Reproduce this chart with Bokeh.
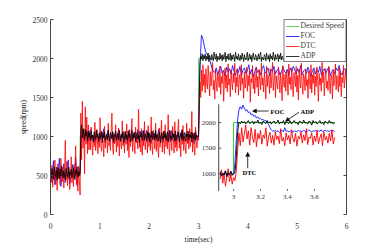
import numpy as np
from bokeh.plotting import figure
from bokeh.models import Range1d, LinearAxis, Legend, LegendItem, Arrow, NormalHead, FixedTicker
from bokeh.core.properties import value
from bokeh.embed import file_html
from bokeh.resources import INLINE

# ---------------- data ----------------
time_foc = np.round(np.linspace(0.0, 6.0, 201), 3)      # 0.03 s sampling
time_fine = np.round(np.linspace(0.0, 6.0, 401), 3)     # 0.015 s sampling

desired_t = [0.0, 0.6, 0.6, 3.0, 3.0, 6.0]
desired_w = [500, 500, 1000, 1000, 2000, 2000]

foc = [560, 420, 690, 380, 610, 470, 720, 360, 540, 650, 410, 580, 700, 390, 500, 640, 450, 730, 370, 600,
       520,
       980, 1060, 940, 1080, 910, 1030, 1090, 950, 1010, 920,
       1070, 990, 930, 1050, 960, 1100, 920, 1020, 1080, 940,
       1000, 1060, 910, 1040, 970, 1090, 930, 1010, 1070, 950,
       1030, 900, 1080, 990, 940, 1050, 1010, 920, 1090, 960,
       1020, 1070, 930, 1000, 1080, 950, 1040, 910, 1060, 980,
       1030, 940, 1090, 970, 1010, 920, 1070, 1000, 950, 1050,
       930, 1080, 990, 1020, 910, 1060, 960, 1040, 1090, 940,
       1000, 1070, 920, 1030, 980, 1050, 910, 1080, 960,
       1000, 1900, 2300, 2250, 2150, 2080, 2050, 2010, 1960, 1880, 1840,
       1820, 1880, 1790, 1860, 1900, 1810, 1850, 1770, 1890, 1830,
       1870, 1800, 1910, 1840, 1780, 1860, 1820, 1900, 1790, 1850,
       1880, 1810, 1840, 1920, 1800, 1860, 1770, 1830, 1890, 1820,
       1850, 1790, 1870, 1910, 1810, 1840, 1880, 1780, 1860, 1830,
       1900, 1800, 1850, 1870, 1790, 1820, 1890, 1840, 1810, 1860,
       1780, 1880, 1830, 1900, 1850, 1800, 1870, 1820, 1910, 1790,
       1840, 1860, 1810, 1890, 1830, 1770, 1850, 1880, 1800, 1860,
       1820, 1900, 1790, 1840, 1870, 1810, 1850, 1890, 1780, 1830,
       1860, 1800, 1880, 1840, 1910, 1820, 1790, 1850, 1870, 1830]

dtc = [520, 410, 630, 350, 580, 470, 700, 390, 540, 310,
       650, 460, 590, 380, 720, 500, 420, 610, 340, 560,
       950, 440, 680, 370, 530, 600, 320, 490, 740, 410,
       570, 360, 640, 480, 880, 390, 550, 300, 620, 450,
       250,
       1300, 700, 1450, 850, 1100, 520, 1380, 900, 1250, 780, 1150, 830,
       1050, 830, 1120, 900, 760, 1010, 870, 1180, 820, 950,
       1090, 780, 1000, 860, 1240, 890, 810, 1060, 930, 740,
       1130, 850, 980, 1020, 790, 1170, 880, 940, 820, 1080,
       1300, 860, 770, 1040, 910, 1150, 800, 990, 870, 1110,
       750, 1020, 930, 840, 1200, 880, 960, 790, 1070, 900,
       1160, 820, 1000, 730, 1090, 870, 950, 1230, 810, 1040,
       890, 780, 1120, 920, 1010, 840, 1350, 860, 970, 800,
       1100, 760, 1030, 880, 1190, 830, 940, 1060, 790, 1140,
       870, 1000, 820, 1250, 900, 770, 1080, 950, 840, 1170,
       810, 1020, 890, 730, 1110, 860, 990, 1210, 800, 1050,
       920, 780, 1150, 870, 1010, 840, 1280, 890, 760, 1070,
       930, 820, 1130, 1000, 790, 1190, 860, 950, 810, 1090,
       1220, 850, 970, 740, 1060, 900, 1140, 820, 1000, 880,
       780, 1170, 910, 1030, 840, 1100, 870, 960, 1320, 800,
       1040, 890, 760, 1120, 930, 850, 1010,
       950,
       1250, 1700, 1500, 1850, 1580, 1920, 1650,
       1800, 1560, 1870, 1690, 1610, 1910, 1740, 1520, 1830, 1650,
       1780, 1950, 1600, 1720, 1480, 1860, 1690, 1580, 1820, 1750,
       1630, 1900, 1540, 1770, 1680, 1840, 1450, 1710, 1880, 1620,
       1790, 1570, 1930, 1660, 1740, 1510, 1850, 1700, 1600, 1810,
       1690, 1940, 1560, 1760, 1640, 1870, 1530, 1730, 1800, 1590,
       1920, 1670, 1750, 1490, 1830, 1620, 1710, 1890, 1580, 1780,
       1650, 1850, 1440, 1740, 1690, 1910, 1610, 1800, 1550, 1720,
       1880, 1630, 1770, 1520, 1860, 1700, 1600, 1940, 1660, 1750,
       1570, 1820, 1690, 1480, 1900, 1640, 1790, 1730, 1550, 1870,
       1620, 1760, 1950, 1590, 1710, 1840, 1500, 1780, 1680, 1610,
       1890, 1730, 1560, 1820, 1660, 1460, 1910, 1700, 1630, 1800,
       1580, 1850, 1740, 1530, 1930, 1670, 1760, 1600, 1880, 1690,
       1510, 1820, 1720, 1640, 1900, 1570, 1780, 1470, 1860, 1710,
       1620, 1940, 1680, 1540, 1800, 1750, 1590, 1870, 1650, 1730,
       1490, 1840, 1700, 1610, 1920, 1560, 1790, 1680, 1850, 1530,
       1770, 1640, 1890, 1720, 1450, 1810, 1660, 1750, 1580, 1950,
       1690, 1830, 1520, 1740, 1870, 1620, 1710, 1590, 1900, 1680,
       1550, 1800, 1760, 1480, 1850, 1650, 1730, 1930, 1600, 1780,
       1700, 1570, 1880, 1640, 1820, 1510, 1760, 1690, 1910, 1620,
       1740, 1850, 1680]

adp = [530, 470, 590, 500, 450, 610, 520, 480, 570, 440,
       600, 510, 460, 580, 490, 620, 530, 470, 560, 500,
       450, 590, 540, 480, 610, 460, 550, 510, 580, 470,
       530, 600, 490, 450, 570, 520, 610, 480, 540, 500,
       560,
       1080, 1150, 980, 1100, 1040, 960, 1090, 1010, 1060, 950, 1070, 990,
       1040, 950, 1070, 980, 1020, 930, 1060, 1000, 960, 1080,
       990, 1030, 940, 1050, 970, 1010, 1070, 920, 1040, 980,
       1060, 950, 1000, 1030, 960, 1080, 990, 940, 1050, 1010,
       970, 1060, 930, 1020, 1000, 1070, 950, 990, 1040, 960,
       1080, 1010, 940, 1030, 980, 1050, 920, 1000, 1060, 970,
       1020, 950, 1070, 990, 1040, 930, 1010, 1080, 960, 1030,
       980, 1060, 940, 1000, 1050, 970, 1020, 920, 1070, 990,
       1040, 950, 1010, 1080, 960, 1030, 1000, 940, 1060, 980,
       1050, 930, 1020, 990, 1070, 960, 1000, 1040, 950, 1080,
       970, 1030, 1010, 940, 1060, 990, 920, 1050, 1000, 960,
       1070, 980, 1040, 950, 1020, 1060, 930, 1000, 1080, 970,
       1010, 950, 1050, 990, 1030, 940, 1070, 960, 1020, 1000,
       1060, 930, 990, 1040, 970, 1080, 950, 1010, 1050, 980,
       940, 1030, 1000, 1070, 960, 1020, 990, 1060, 930, 1040,
       1000, 970, 1050, 950, 1020, 990, 1010,
       1000,
       1500, 1950, 2030, 1990, 2060, 1970, 2040,
       2000, 2060, 1970, 2030, 1990, 2070, 1960, 2040, 2010, 1980,
       2050, 2000, 1970, 2080, 2020, 1990, 2060, 1960, 2030, 2010,
       1980, 2070, 2000, 2040, 1970, 2050, 1990, 2020, 2080, 1960,
       2030, 2000, 2060, 1980, 2010, 2070, 1970, 2040, 1990, 2050,
       2020, 1960, 2080, 2000, 2030, 1980, 2060, 2010, 1970, 2040,
       1990, 2070, 2020, 1960, 2050, 2000, 1980, 2030, 2080, 1970,
       2010, 2060, 1990, 2040, 1960, 2020, 2070, 2000, 1980, 2050,
       2030, 1970, 2010, 2060, 1990, 2040, 2080, 1960, 2020, 2000,
       1980, 2050, 2030, 1970, 2070, 2010, 1990, 2040, 1960, 2060,
       2000, 2030, 1980, 2080, 2020, 1970, 2050, 1990, 2010, 2060,
       1960, 2040, 2000, 2070, 1980, 2030, 2010, 1970, 2050, 1990,
       2080, 2020, 1960, 2040, 2000, 2060, 1980, 2030, 1970, 2010,
       2050, 1990, 2070, 2020, 1960, 2040, 2000, 1980, 2060, 2030,
       1970, 2010, 2080, 1990, 2050, 2020, 1960, 2040, 2000, 2070,
       1980, 2030, 2010, 1970, 2060, 1990, 2050, 2020, 1960, 2080,
       2000, 2040, 1980, 2030, 1970, 2060, 2010, 1990, 2050, 2000,
       1960, 2070, 2020, 1980, 2040, 2010, 1970, 2060, 1990, 2030,
       2080, 2000, 1960, 2050, 2020, 1980, 2040, 1970, 2010, 2060,
       1990, 2030, 2000, 1970, 2070, 2020, 1980, 2050, 2010, 1960,
       2040, 2000, 2030]

# zoomed window (inset), 0.01 s sampling
zoom_time = np.round(np.linspace(2.90, 3.75, 86), 2)
zoom_desired_t = [2.90, 3.0, 3.0, 3.75]
zoom_desired_w = [1000, 1000, 2000, 2000]
zoom_foc = [980, 1040, 950, 1020, 1060, 940, 1010, 970, 1050, 990,
            1000, 1200, 1650, 2050, 2250, 2310, 2260, 2340, 2280, 2230,
            2250, 2190, 2210, 2150, 2170, 2120, 2140, 2090, 2110, 2070,
            2080, 2050, 2060, 2030, 2040, 2000, 1960, 1900, 1860, 1840,
            1830, 1850, 1820, 1840, 1810, 1830, 1850, 1820, 1900, 1830,
            1840, 1820, 1830, 1850, 1810, 1840, 1830, 1820, 1850, 1830,
            1840, 1820, 1850, 1830, 1810, 1840, 1860, 1830, 1820, 1840,
            1830, 1850, 1820, 1840, 1830, 1860, 1820, 1840, 1850, 1830,
            1840, 1820, 1850, 1830, 1840, 1830]
zoom_dtc = [900, 1080, 820, 1010, 760, 950, 1100, 850, 990, 800,
            930, 870, 1050, 1450, 1800, 1550, 1900, 1620, 1780, 1950,
            1680, 1840, 1560, 1900, 1720, 1610, 1870, 1530, 1790, 1680,
            1850, 1580, 1760, 1690, 1900, 1540, 1720, 1810, 1600, 1750,
            1560, 1820, 1670, 1740, 1590, 1880, 1640, 1710, 1550, 1800,
            1660, 1750, 1580, 1860, 1690, 1620, 1790, 1540, 1730, 1680,
            1820, 1600, 1760, 1650, 1880, 1570, 1720, 1690, 1800, 1560,
            1740, 1630, 1850, 1590, 1700, 1780, 1550, 1820, 1660, 1730,
            1600, 1790, 1640, 1860, 1580, 1710]
zoom_adp = [1040, 960, 1010, 980, 1060, 950, 1020, 990, 1050, 970,
            1000, 1020, 1300, 1800, 2010, 1980, 2030, 1990, 2020, 1970,
            2010, 2040, 1980, 2000, 2030, 1970, 2020, 1990, 2050, 1980,
            2010, 1960, 2030, 2000, 1980, 2040, 1990, 2020, 1970, 2010,
            2030, 1980, 2000, 2050, 1970, 2010, 1990, 2040, 1960, 2020,
            2000, 1980, 2030, 1970, 2010, 2040, 1990, 2000, 1960, 2030,
            2010, 1980, 2050, 1990, 2000, 1970, 2030, 2010, 1950, 2040,
            1990, 2020, 1970, 2000, 2040, 1980, 2010, 1960, 2030, 2000,
            1980, 2040, 1990, 2010, 1970, 2000]

x_ticks = [0, 1, 2, 3, 4, 5, 6]
y_ticks = [0, 500, 1000, 1500, 2000, 2500]
zoom_x_ticks = [3.0, 3.2, 3.4, 3.6]
zoom_x_labels = ["3", "3.2", "3.4", "3.6"]
zoom_y_ticks = [1000, 1500, 2000]
zoom_y_labels = ["1000", "1500", "2000"]
series_names = ["Desired Speed", "FOC", "DTC", "ADP"]

# ---------------- styling ----------------
FONT = "Liberation Serif"
C_GREEN, C_BLUE, C_RED, C_BLACK = "#33cc33", "#1a1aff", "#ff0000", "#000000"
AX = "#444444"

p = figure(width=380, height=246, output_backend="svg", toolbar_location=None,
           x_range=Range1d(0, 6), y_range=Range1d(0, 2500),
           min_border_left=50, min_border_right=34, min_border_top=19, min_border_bottom=25)
p.outline_line_color = None
p.grid.visible = False
p.background_fill_color = "white"
p.border_fill_color = "white"

# main axes
p.xaxis.ticker = FixedTicker(ticks=x_ticks)
p.xaxis.axis_line_color = None
p.xaxis.major_tick_line_color = None
p.xaxis.minor_tick_line_color = None
p.xaxis.major_label_standoff = 2
p.xaxis.axis_label = "time(sec)"
p.xaxis.axis_label_standoff = 3
p.yaxis.ticker = FixedTicker(ticks=y_ticks)
p.yaxis.axis_label = "speed(rpm)"
p.yaxis.axis_label_standoff = 2
p.yaxis.major_label_standoff = 3
p.yaxis.axis_line_color = AX
p.yaxis.major_tick_in = 3
p.yaxis.major_tick_out = 0
p.yaxis.major_tick_line_color = AX
p.yaxis.minor_tick_line_color = None
for ax in (p.xaxis, p.yaxis):
    ax.major_label_text_font = FONT
    ax.major_label_text_font_size = "7.5px"
    ax.major_label_text_color = "#333333"
    ax.axis_label_text_font = FONT
    ax.axis_label_text_font_size = "7.5px"
    ax.axis_label_text_font_style = "normal"
    ax.axis_label_text_color = "#222222"

ax_r = LinearAxis(ticker=FixedTicker(ticks=y_ticks), axis_line_color=AX,
                  major_tick_in=3, major_tick_out=0, major_tick_line_color=AX,
                  minor_tick_line_color=None, major_label_text_color=None,
                  major_label_text_font_size="7.5px")
p.add_layout(ax_r, "right")

# main series
r_des = p.line(desired_t, desired_w, line_color=C_GREEN, line_width=0.8)
r_foc = p.line(time_foc, foc, line_color=C_BLUE, line_width=0.9)
r_dtc = p.line(time_fine, dtc, line_color=C_RED, line_width=0.8)
r_adp = p.line(time_fine, adp, line_color=C_BLACK, line_width=0.8)

legend = Legend(items=[LegendItem(label=n, renderers=[r]) for n, r in
                       zip(series_names, [r_des, r_foc, r_dtc, r_adp])],
                location="top_right", margin=0, padding=1, spacing=1,
                glyph_height=8, glyph_width=14, label_height=8, label_standoff=1,
                label_text_font=FONT, label_text_font_size="7.5px",
                border_line_color="#000000", border_line_width=0.8,
                background_fill_color="white", background_fill_alpha=1.0)
p.add_layout(legend)

# ---------------- inset (zoom on the 3 s step) ----------------
box_x = (3.41, 6.0)
box_y = (302, 1413)
win_x = (2.89, 3.838)
win_y = (668, 2356)
sx = (win_x[1] - win_x[0]) / (box_x[1] - box_x[0])
sy = (win_y[1] - win_y[0]) / (box_y[1] - box_y[0])
p.extra_x_ranges = {"ix": Range1d(win_x[0] - box_x[0] * sx, win_x[0] + (6 - box_x[0]) * sx)}
p.extra_y_ranges = {"iy": Range1d(win_y[0] - box_y[0] * sy, win_y[0] + (2500 - box_y[0]) * sy)}
kw = dict(x_range_name="ix", y_range_name="iy")

p.line(zoom_desired_t, zoom_desired_w, line_color=C_GREEN, line_width=1.0, **kw)
p.line(zoom_time, zoom_foc, line_color=C_BLUE, line_width=0.9, **kw)
p.line(zoom_time, zoom_dtc, line_color=C_RED, line_width=0.9, **kw)
p.line(zoom_time, zoom_adp, line_color=C_BLACK, line_width=0.9, **kw)

# inset axis
p.segment(x0=[win_x[0]], y0=[win_y[0]], x1=[win_x[0]], y1=[win_y[1]],
          line_color=AX, line_width=1, **kw)
p.segment(x0=[win_x[0]] * len(zoom_y_ticks), y0=zoom_y_ticks,
          x1=[win_x[0] + 0.02] * len(zoom_y_ticks), y1=zoom_y_ticks,
          line_color=AX, line_width=0.8, **kw)
p.segment(x0=zoom_x_ticks, y0=[win_y[0]] * len(zoom_x_ticks),
          x1=zoom_x_ticks, y1=[win_y[0] + 40] * len(zoom_x_ticks),
          line_color=AX, line_width=0.8, **kw)
p.text(x=[win_x[0]] * len(zoom_y_ticks), y=zoom_y_ticks, text=zoom_y_labels,
       x_offset=-3, text_align="right", text_baseline="middle",
       text_font=value(FONT), text_font_size="7px", text_color="#333333", **kw)
p.text(x=zoom_x_ticks, y=[win_y[0]] * len(zoom_x_ticks), text=zoom_x_labels,
       y_offset=6, text_align="center", text_baseline="middle",
       text_font=value(FONT), text_font_size="7px", text_color="#333333", **kw)

# inset annotations
ann_text = ["FOC", "ADP", "DTC"]
ann_x = [3.275, 3.497, 3.066]
ann_y = [2225, 2225, 1025]
p.text(x=ann_x, y=ann_y, text=ann_text, text_align="left", text_baseline="middle",
       text_font=value(FONT), text_font_size="6.5px", text_font_style="bold",
       text_color="#000000", **kw)
arrows = [((3.26, 2225), (3.14, 2225)),
          ((3.485, 2200), (3.385, 2025)),
          ((3.105, 1110), (3.105, 1420))]
for (xs, ys), (xe, ye) in arrows:
    p.add_layout(Arrow(end=NormalHead(size=4, fill_color="black", line_color="black", line_width=0.5),
                       x_start=xs, y_start=ys, x_end=xe, y_end=ye,
                       line_color="black", line_width=0.8, **kw))

open("out.html", "w").write(file_html(p, INLINE))
